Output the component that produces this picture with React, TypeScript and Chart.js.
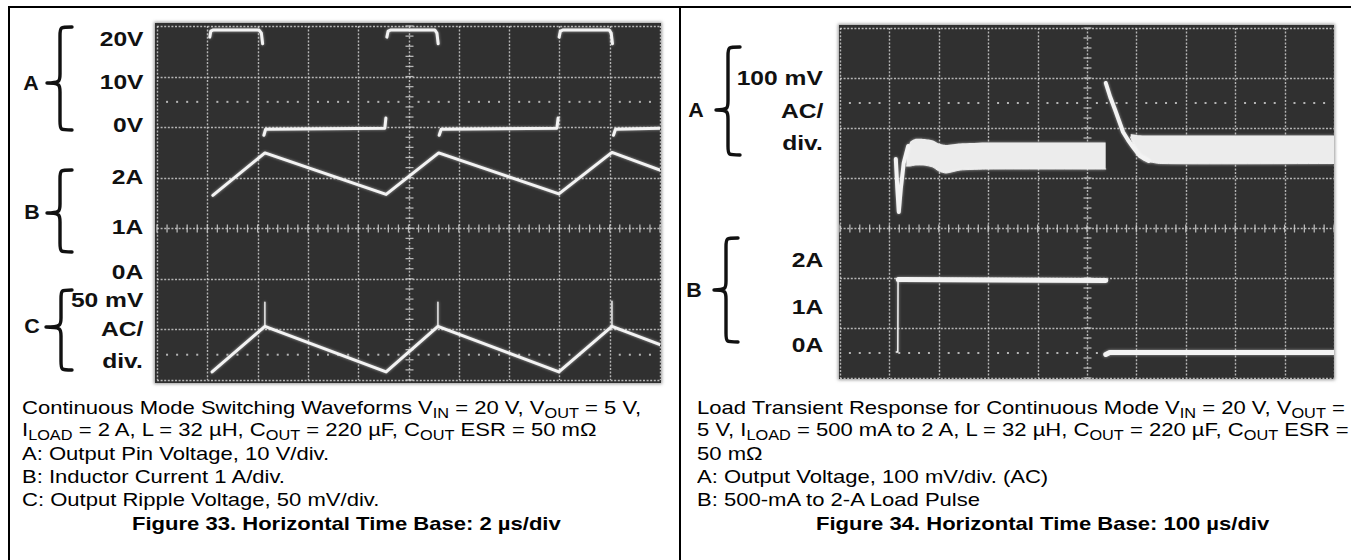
import React, { useEffect, useRef } from "react";
import { Chart, registerables } from "chart.js";

Chart.register(...registerables);

// ===== Figure 33: continuous-mode switching waveforms, 2 µs/div =====
const fig33TimeGrid = [0, 2, 4, 6, 8, 10, 12, 14, 16, 18, 20]; // µs
const fig33VoltGrid = [-50, -40, -30, -20, -10, 0, 10, 20]; // channel A, 10 V/div
const fig33MarkerVolts = [5, -45];

// A: output pin voltage (V)
const fig33PinTime = [2.1, 2.14, 2.22, 4.06, 4.15, 4.2, 4.22, 4.25, 4.32, 9.06, 9.1, 9.12, 9.14, 9.19, 9.28, 11.05, 11.13, 11.18, 11.2, 11.22, 11.3, 15.9, 15.95, 15.97, 15.99, 16.04, 16.13, 17.98, 18.06, 18.11, 18.13, 18.15, 18.23, 20];
const fig33PinVolt = [17.8, 19, 19.2, 19.2, 18.6, 16.5, null, -1.6, -0.4, -0.2, 1.8, null, 17.8, 19, 19.2, 19.2, 18.6, 16.5, null, -1.6, -0.4, -0.2, 1.8, null, 17.8, 19, 19.2, 19.2, 18.6, 16.5, null, -1.6, -0.4, -0.2];

// B: inductor current (A)
const fig33CurrentTime = [2.22, 4.29, 9.11, 11.2, 15.98, 18.09, 20];
const fig33CurrentAmp = [1.65, 2.49, 1.67, 2.49, 1.68, 2.5, 2.15];

// C: output ripple (mV, AC)
const fig33RippleTime = [2.19, 4.29, 9.11, 11.17, 15.98, 18.09, 20];
const fig33RippleMv = [-42, 3, -42, 3, -42, 3, -15];
const fig33SpikeTime = [4.29, 4.29, 4.3, 11.17, 11.17, 11.18, 18.09, 18.09, 18.1];
const fig33SpikeMv = [3, 27, null, 3, 27, null, 3, 28, null];

const fig33LevelLabels = ["20V", "10V", "0V", "2A", "1A", "0A", "50 mV", "AC/", "div."];
const fig33ChannelLabels = ["A", "B", "C"];

// ===== Figure 34: load transient response, 100 µs/div =====
const fig34TimeGrid = [0, 100, 200, 300, 400, 500, 600, 700, 800, 900, 1000]; // µs
const fig34MvGrid = [-500, -400, -300, -200, -100, 0, 100, 200]; // channel A, 100 mV/div
const fig34MarkerMv = [50, -450];

// A: output voltage (mV, AC)
const fig34DipTime = [113, 116, 119, 123, 129, 138];
const fig34DipMv = [-62, -120, -168, -122, -70, -36];
const fig34BandTime = [134, 142, 152, 170, 188, 200, 215, 243, 300, 538];
const fig34BandHighMv = [-58, -28, -22, -22, -25, -31, -34, -31, -29, -29];
const fig34BandLowMv = [-76, -76, -74, -74, -78, -86, -90, -84, -82, -82];
const fig34KickTime = [538, 547, 557, 565, 573, 583, 593, 607, 625];
const fig34KickMv = [90, 62, 36, 14, -8, -24, -38, -56, -66];
const fig34SettleTime = [588, 600, 615, 650, 1000];
const fig34SettleHighMv = [-12, -14, -15, -15, -15];
const fig34SettleLowMv = [-18, -46, -64, -71, -71];

// B: load current (A)
const fig34LoadEdgeTime = [114, 117, 117.5];
const fig34LoadEdgeAmp = [0.52, 0.52, 1.96];
const fig34LoadHighTime = [118, 126, 538];
const fig34LoadHighAmp = [1.97, 1.97, 1.95];
const fig34LoadLowTime = [538, 546, 1000];
const fig34LoadLowAmp = [0.47, 0.51, 0.51];

const fig34LevelLabels = ["100 mV", "AC/", "div.", "2A", "1A", "0A"];
const fig34ChannelLabels = ["A", "B"];

// ===== styling =====
const PAGE_W = 1351;
const FONT = '"Liberation Sans", Arial, Helvetica, sans-serif';
const STRETCH = 1.16;
const TRACE = "#f3f3f3";
const BAND = "#ececec";
const SCREEN = "#303030";
const GRID = "rgba(205,205,205,0.85)";

type Pt = { x: number; y: number | null };
const pts = (xs: number[], ys: (number | null)[]): Pt[] => xs.map((x, i) => ({ x, y: ys[i] }));

const trace = (xs: number[], ys: (number | null)[], yAxisID: string, borderWidth = 3) => ({
  data: pts(xs, ys),
  yAxisID,
  borderColor: TRACE,
  backgroundColor: TRACE,
  borderWidth,
  pointRadius: 0,
  fill: false,
  spanGaps: false,
  tension: 0,
});

const bandEdge = (xs: number[], ys: number[], yAxisID: string, fillPrev: boolean) => ({
  data: pts(xs, ys),
  yAxisID,
  borderColor: fillPrev ? BAND : "rgba(0,0,0,0)",
  backgroundColor: BAND,
  borderWidth: fillPrev ? 1 : 0,
  pointRadius: 0,
  fill: fillPrev ? "-1" : false,
  tension: 0.2,
});

const scopePlugin = {
  id: "scope",
  beforeDraw(chart: any) {
    const { ctx, width, height } = chart;
    ctx.save();
    ctx.fillStyle = SCREEN;
    ctx.fillRect(0, 0, width, height);
    ctx.restore();
  },
  beforeDatasetsDraw(chart: any, _a: any, o: any) {
    const { ctx, chartArea: a } = chart;
    const xs = chart.scales.x;
    const ys = chart.scales[o.gridAxis];
    ctx.save();
    ctx.strokeStyle = GRID;
    ctx.lineWidth = 1.4;
    ctx.setLineDash([2, 1.6]);
    for (const t of o.timeGrid) {
      const px = Math.round(xs.getPixelForValue(t)) + 0.5;
      ctx.beginPath();
      ctx.moveTo(px, a.top);
      ctx.lineTo(px, a.bottom);
      ctx.stroke();
    }
    for (const v of o.levelGrid) {
      const py = Math.round(ys.getPixelForValue(v)) + 0.5;
      ctx.beginPath();
      ctx.moveTo(a.left, py);
      ctx.lineTo(a.right, py);
      ctx.stroke();
    }
    ctx.setLineDash([]);
    ctx.lineWidth = 1.3;
    const cx = Math.round(xs.getPixelForValue(o.centerTime)) + 0.5;
    const cy = Math.round(ys.getPixelForValue(o.centerLevel)) + 0.5;
    const nT = Math.round((xs.max - xs.min) / o.minorTime);
    for (let i = 0; i <= nT; i++) {
      const px = xs.getPixelForValue(xs.min + i * o.minorTime);
      ctx.beginPath();
      ctx.moveTo(px, cy - 4);
      ctx.lineTo(px, cy + 4);
      ctx.stroke();
    }
    const nL = Math.round((ys.max - ys.min) / o.minorLevel);
    for (let i = 0; i <= nL; i++) {
      const py = ys.getPixelForValue(ys.min + i * o.minorLevel);
      ctx.beginPath();
      ctx.moveTo(cx - 4, py);
      ctx.lineTo(cx + 4, py);
      ctx.stroke();
    }
    ctx.fillStyle = GRID;
    for (const m of o.markerLevels) {
      const py = ys.getPixelForValue(m);
      for (let i = 0; i <= nT; i++) {
        if (i % 5 === 0) continue;
        const px = xs.getPixelForValue(xs.min + i * o.minorTime);
        ctx.fillRect(px - 1, py - 1, 2, 2);
      }
    }
    ctx.restore();
    ctx.save();
    ctx.shadowColor = "rgba(255,255,255,0.55)";
    ctx.shadowBlur = 3;
  },
  afterDatasetsDraw(chart: any) {
    chart.ctx.restore();
  },
};

function Scope({ left, top, width, height, padding, build }: any) {
  const ref = useRef<HTMLCanvasElement>(null);
  useEffect(() => {
    const chart = new Chart(ref.current as HTMLCanvasElement, build(padding) as any);
    return () => chart.destroy();
  }, []);
  return (
    <canvas
      ref={ref}
      width={width}
      height={height}
      style={{
        position: "absolute",
        left,
        top,
        width,
        height,
        boxShadow: "0 0 3px 1px rgba(70,70,70,0.55)",
      }}
    />
  );
}

const hidden = (min: number, max: number) => ({ type: "linear", min, max, display: false });

const baseOptions = (padding: any, scope: any, scales: any) => ({
  responsive: false,
  animation: false,
  devicePixelRatio: 1,
  events: [],
  layout: { padding },
  elements: { line: { borderCapStyle: "round", borderJoinStyle: "round" } },
  plugins: { legend: { display: false }, tooltip: { enabled: false }, scope },
  scales,
});

const buildFig33 = (padding: any) => ({
  type: "line",
  data: {
    datasets: [
      trace(fig33PinTime, fig33PinVolt, "yA", 3),
      trace(fig33CurrentTime, fig33CurrentAmp, "yB", 3),
      trace(fig33RippleTime, fig33RippleMv, "yC", 3),
      trace(fig33SpikeTime, fig33SpikeMv, "yC", 1.4),
    ],
  },
  options: baseOptions(
    padding,
    {
      gridAxis: "yA",
      timeGrid: fig33TimeGrid,
      levelGrid: fig33VoltGrid,
      markerLevels: fig33MarkerVolts,
      minorTime: 0.4,
      minorLevel: 2,
      centerTime: 10,
      centerLevel: -20,
    },
    { x: hidden(0, 20), yA: hidden(-50, 20), yB: hidden(-2, 5), yC: hidden(-50, 300) }
  ),
  plugins: [scopePlugin],
});

const buildFig34 = (padding: any) => ({
  type: "line",
  data: {
    datasets: [
      trace(fig34DipTime, fig34DipMv, "yA", 4),
      bandEdge(fig34BandTime, fig34BandHighMv, "yA", false),
      bandEdge(fig34BandTime, fig34BandLowMv, "yA", true),
      trace(fig34KickTime, fig34KickMv, "yA", 4),
      bandEdge(fig34SettleTime, fig34SettleHighMv, "yA", false),
      bandEdge(fig34SettleTime, fig34SettleLowMv, "yA", true),
      trace(fig34LoadEdgeTime, fig34LoadEdgeAmp, "yB", 1.5),
      trace(fig34LoadHighTime, fig34LoadHighAmp, "yB", 5),
      trace(fig34LoadLowTime, fig34LoadLowAmp, "yB", 5),
    ],
  },
  options: baseOptions(
    padding,
    {
      gridAxis: "yA",
      timeGrid: fig34TimeGrid,
      levelGrid: fig34MvGrid,
      markerLevels: fig34MarkerMv,
      minorTime: 20,
      minorLevel: 20,
      centerTime: 500,
      centerLevel: -200,
    },
    { x: hidden(0, 1000), yA: hidden(-500, 200), yB: hidden(0, 7) }
  ),
  plugins: [scopePlugin],
});

function Label({ right, cy, children }: any) {
  const H = 26;
  return (
    <div
      style={{
        position: "absolute",
        right: PAGE_W - right,
        top: cy - H / 2,
        height: H,
        lineHeight: H + "px",
        fontFamily: FONT,
        fontWeight: "bold",
        fontSize: 20.5,
        whiteSpace: "nowrap",
        transform: "scaleX(1.2)",
        transformOrigin: "right center",
        color: "#111",
      }}
    >
      {children}
    </div>
  );
}

function Channel({ cx, cy, children }: any) {
  const H = 24;
  return (
    <div
      style={{
        position: "absolute",
        left: cx - 20,
        width: 40,
        top: cy - H / 2,
        height: H,
        lineHeight: H + "px",
        textAlign: "center",
        fontFamily: FONT,
        fontWeight: "bold",
        fontSize: 19.5,
        transform: "scaleX(1.1)",
        color: "#111",
      }}
    >
      {children}
    </div>
  );
}

function Line({ x, baseline, bold, children }: any) {
  return (
    <div
      style={{
        position: "absolute",
        left: x,
        top: baseline - 18.2,
        height: 23,
        lineHeight: "23px",
        fontFamily: FONT,
        fontSize: 19,
        fontWeight: bold ? "bold" : "normal",
        whiteSpace: "nowrap",
        transform: `scaleX(${STRETCH})`,
        transformOrigin: "left top",
        color: "#000",
      }}
    >
      {children}
    </div>
  );
}

const Sub = ({ children }: any) => (
  <span style={{ fontSize: "0.74em", position: "relative", top: "0.3em" }}>{children}</span>
);

function brace(xTip: number, xStem: number, xEnd: number, y0: number, ym: number, y1: number) {
  return `M ${xEnd} ${y0} C ${xStem} ${y0} ${xStem} ${y0} ${xStem} ${y0 + 9} L ${xStem} ${ym - 9} C ${xStem} ${ym - 2} ${xStem} ${ym} ${xTip} ${ym} C ${xStem} ${ym} ${xStem} ${ym + 2} ${xStem} ${ym + 9} L ${xStem} ${y1 - 9} C ${xStem} ${y1} ${xStem} ${y1} ${xEnd} ${y1}`;
}

const BASE = [414, 436, 460, 483, 506, 530];

export default function App() {
  return (
    <div
      style={{
        position: "absolute",
        left: 0,
        top: 0,
        width: PAGE_W,
        height: 560,
        overflow: "hidden",
        background: "#fff",
      }}
    >
      {/* frame */}
      <div style={{ position: "absolute", left: 8, top: 6, width: PAGE_W - 8, height: 1.5, background: "#000" }} />
      <div style={{ position: "absolute", left: 8, top: 6, width: 1.5, height: 560, background: "#000" }} />
      <div style={{ position: "absolute", left: 679, top: 6, width: 1.5, height: 560, background: "#000" }} />

      <svg width={PAGE_W} height={560} style={{ position: "absolute", left: 0, top: 0 }}>
        <g fill="none" stroke="#111" strokeWidth={3.4} strokeLinecap="round" strokeLinejoin="round">
          <path d={brace(47, 60, 72, 27, 83, 130)} />
          <path d={brace(47, 60, 72, 170, 213, 252)} />
          <path d={brace(46, 61, 72, 290, 327, 370)} />
          <path d={brace(716, 728, 740, 47, 110, 155)} />
          <path d={brace(714, 726, 738, 238, 290, 342)} />
        </g>
      </svg>

      {/* Figure 33 labels */}
      <Channel cx={31} cy={83}>{fig33ChannelLabels[0]}</Channel>
      <Channel cx={32} cy={212}>{fig33ChannelLabels[1]}</Channel>
      <Channel cx={32} cy={326}>{fig33ChannelLabels[2]}</Channel>
      {[39, 82, 125, 177, 227, 272, 300, 329, 361].map((cy, i) => (
        <Label key={i} right={143} cy={cy}>
          {fig33LevelLabels[i]}
        </Label>
      ))}

      <Scope left={155} top={23} width={506} height={360} padding={{ left: 2, right: 1, top: 3, bottom: 3 }} build={buildFig33} />

      {/* Figure 34 labels */}
      <Channel cx={696} cy={110}>{fig34ChannelLabels[0]}</Channel>
      <Channel cx={694} cy={290}>{fig34ChannelLabels[1]}</Channel>
      {[78, 111, 143, 260, 307, 345].map((cy, i) => (
        <Label key={i} right={823} cy={cy}>
          {fig34LevelLabels[i]}
        </Label>
      ))}

      <Scope left={839} top={25} width={495} height={354} padding={{ left: 1, right: 0, top: 3, bottom: 1 }} build={buildFig34} />

      {/* Figure 33 caption */}
      <Line x={22} baseline={BASE[0]}>
        Continuous Mode Switching Waveforms V<Sub>IN</Sub> = 20 V, V<Sub>OUT</Sub> = 5 V,
      </Line>
      <Line x={22} baseline={BASE[1]}>
        I<Sub>LOAD</Sub> = 2 A, L = 32 µH, C<Sub>OUT</Sub> = 220 µF, C<Sub>OUT</Sub> ESR = 50 mΩ
      </Line>
      <Line x={22} baseline={BASE[2]}>A: Output Pin Voltage, 10 V/div.</Line>
      <Line x={22} baseline={BASE[3]}>B: Inductor Current 1 A/div.</Line>
      <Line x={22} baseline={BASE[4]}>C: Output Ripple Voltage, 50 mV/div.</Line>
      <Line x={132} baseline={BASE[5]} bold>
        Figure 33. Horizontal Time Base: 2 µs/div
      </Line>

      {/* Figure 34 caption */}
      <Line x={697} baseline={BASE[0]}>
        Load Transient Response for Continuous Mode V<Sub>IN</Sub> = 20 V, V<Sub>OUT</Sub> =
      </Line>
      <Line x={697} baseline={BASE[1]}>
        5 V, I<Sub>LOAD</Sub> = 500 mA to 2 A, L = 32 µH, C<Sub>OUT</Sub> = 220 µF, C<Sub>OUT</Sub> ESR =
      </Line>
      <Line x={697} baseline={BASE[2]}>50 mΩ</Line>
      <Line x={697} baseline={BASE[3]}>A: Output Voltage, 100 mV/div. (AC)</Line>
      <Line x={697} baseline={BASE[4]}>B: 500-mA to 2-A Load Pulse</Line>
      <Line x={816} baseline={BASE[5]} bold>
        Figure 34. Horizontal Time Base: 100 µs/div
      </Line>
    </div>
  );
}
